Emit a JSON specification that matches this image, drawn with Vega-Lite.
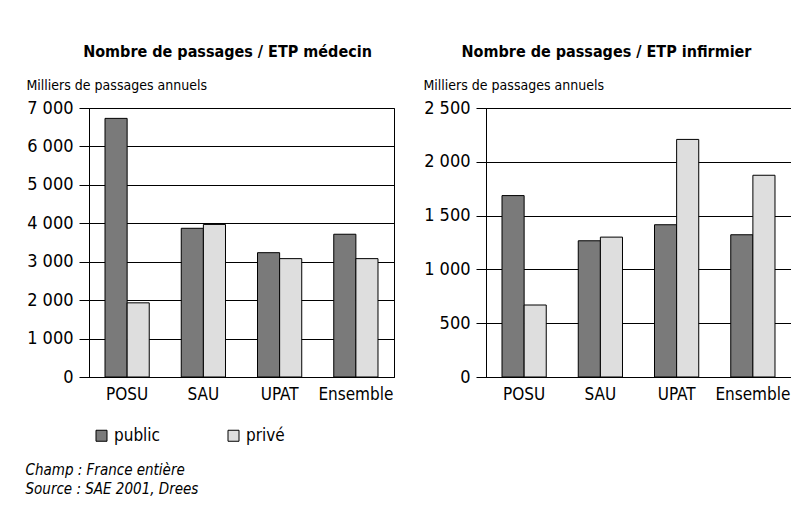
{
  "$schema": "https://vega.github.io/schema/vega-lite/v6.json",
  "background": "white",
  "padding": {"left": 25, "top": 43, "right": 5, "bottom": 5},
  "datasets": {
    "d": [
      {"chart": "medecin", "cat": "POSU", "secteur": "public", "value": 6730},
      {"chart": "medecin", "cat": "POSU", "secteur": "privé", "value": 1930},
      {"chart": "medecin", "cat": "SAU", "secteur": "public", "value": 3870},
      {"chart": "medecin", "cat": "SAU", "secteur": "privé", "value": 3970},
      {"chart": "medecin", "cat": "UPAT", "secteur": "public", "value": 3235},
      {"chart": "medecin", "cat": "UPAT", "secteur": "privé", "value": 3080},
      {"chart": "medecin", "cat": "Ensemble", "secteur": "public", "value": 3715},
      {"chart": "medecin", "cat": "Ensemble", "secteur": "privé", "value": 3080},
      {"chart": "infirmier", "cat": "POSU", "secteur": "public", "value": 1686},
      {"chart": "infirmier", "cat": "POSU", "secteur": "privé", "value": 669},
      {"chart": "infirmier", "cat": "SAU", "secteur": "public", "value": 1266},
      {"chart": "infirmier", "cat": "SAU", "secteur": "privé", "value": 1300},
      {"chart": "infirmier", "cat": "UPAT", "secteur": "public", "value": 1415},
      {"chart": "infirmier", "cat": "UPAT", "secteur": "privé", "value": 2208},
      {"chart": "infirmier", "cat": "Ensemble", "secteur": "public", "value": 1322},
      {"chart": "infirmier", "cat": "Ensemble", "secteur": "privé", "value": 1875}
    ]
  },
  "title": {
    "text": ["Champ : France entière", "Source : SAE 2001, Drees"],
    "orient": "bottom",
    "anchor": "start",
    "frame": "bounds",
    "fontStyle": "italic",
    "fontWeight": "normal",
    "fontSize": 15,
    "lineHeight": 19,
    "font": "DejaVu Sans Condensed, Roboto",
    "color": "black",
    "offset": 18
  },
  "spacing": 27,
  "resolve": {"legend": {"color": "independent"}},
  "hconcat": [
    {
      "width": 305,
      "height": 269,
      "data": {"name": "d"},
      "transform": [{"filter": "datum.chart == 'medecin'"}],
      "title": {"text": "Nombre de passages / ETP médecin", "dx": -14},
      "mark": {"type": "bar", "stroke": "black", "strokeWidth": 1},
      "encoding": {
        "x": {
          "field": "cat", "type": "nominal",
          "sort": ["POSU", "SAU", "UPAT", "Ensemble"],
          "scale": {"paddingInner": 0.42, "paddingOuter": 0.21},
          "axis": {"title": null}
        },
        "xOffset": {
          "field": "secteur", "type": "nominal",
          "sort": ["public", "privé"],
          "scale": {"paddingInner": 0, "paddingOuter": 0}
        },
        "y": {
          "field": "value", "type": "quantitative",
          "scale": {"domain": [0, 7000], "nice": false},
          "axis": {
            "title": "Milliers de passages annuels",
            "values": [0, 1000, 2000, 3000, 4000, 5000, 6000, 7000]
          }
        },
        "color": {
          "field": "secteur", "type": "nominal",
          "scale": {"domain": ["public", "privé"], "range": ["#7a7a7a", "#dedede"]},
          "legend": {
            "orient": "none",
            "legendX": 4,
            "legendY": 319,
            "direction": "horizontal",
            "title": null,
            "columnPadding": 64
          }
        }
      }
    },
    {
      "width": 305,
      "height": 269,
      "data": {"name": "d"},
      "transform": [{"filter": "datum.chart == 'infirmier'"}],
      "title": {"text": "Nombre de passages / ETP infirmier", "dx": -32},
      "mark": {"type": "bar", "stroke": "black", "strokeWidth": 1},
      "encoding": {
        "x": {
          "field": "cat", "type": "nominal",
          "sort": ["POSU", "SAU", "UPAT", "Ensemble"],
          "scale": {"paddingInner": 0.42, "paddingOuter": 0.21},
          "axis": {"title": null}
        },
        "xOffset": {
          "field": "secteur", "type": "nominal",
          "sort": ["public", "privé"],
          "scale": {"paddingInner": 0, "paddingOuter": 0}
        },
        "y": {
          "field": "value", "type": "quantitative",
          "scale": {"domain": [0, 2500], "nice": false},
          "axis": {
            "title": "Milliers de passages annuels",
            "values": [0, 500, 1000, 1500, 2000, 2500]
          }
        },
        "color": {
          "field": "secteur", "type": "nominal",
          "scale": {"domain": ["public", "privé"], "range": ["#7a7a7a", "#dedede"]},
          "legend": null
        }
      }
    }
  ],
  "config": {
    "font": "DejaVu Sans Condensed, Roboto",
    "view": {"stroke": "black", "strokeWidth": 1},
    "title": {"fontSize": 16, "fontWeight": "bold", "color": "black", "anchor": "middle", "offset": 18},
    "axisX": {
      "domainColor": "black",
      "ticks": false,
      "labelAngle": 0,
      "labelFontSize": 17,
      "labelColor": "black",
      "labelPadding": 9,
      "grid": false
    },
    "axisY": {
      "domainColor": "black",
      "tickColor": "black",
      "tickSize": 10,
      "labelFontSize": 18,
      "labelColor": "black",
      "labelPadding": 6,
      "labelExpr": "replace(format(datum.value, ','), ',', ' ')",
      "grid": true,
      "gridColor": "black",
      "gridOpacity": 1,
      "titleAngle": 0,
      "titleAlign": "left",
      "titleBaseline": "alphabetic",
      "titleX": -63,
      "titleY": -19,
      "titleFontSize": 14,
      "titleFontWeight": "normal",
      "titleColor": "black"
    },
    "legend": {
      "symbolType": "square",
      "symbolSize": 121,
      "symbolStrokeColor": "black",
      "symbolStrokeWidth": 1,
      "symbolOpacity": 1,
      "labelFontSize": 17,
      "labelColor": "black",
      "labelOffset": 4
    }
  }
}
